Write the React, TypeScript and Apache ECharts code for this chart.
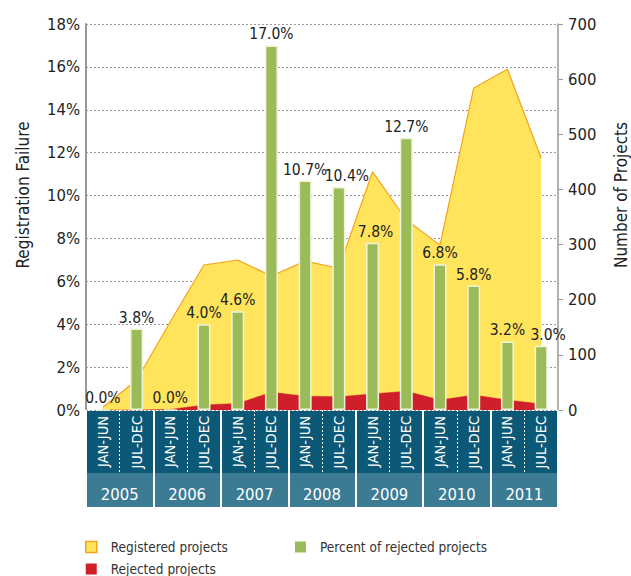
import React, { useEffect, useRef } from "react";
import * as echarts from "echarts";

const halves = [
  "JAN-JUN", "JUL-DEC", "JAN-JUN", "JUL-DEC", "JAN-JUN", "JUL-DEC", "JAN-JUN",
  "JUL-DEC", "JAN-JUN", "JUL-DEC", "JAN-JUN", "JUL-DEC", "JAN-JUN", "JUL-DEC",
];
const years = ["2005", "2006", "2007", "2008", "2009", "2010", "2011"];
const registered = [5, 54, 160, 263, 272, 243, 270, 257, 432, 345, 299, 584, 618, 457];
const rejected = [0, 0, 1, 9, 12, 32, 25, 24, 29, 34, 18, 27, 18, 11];
const percentRejected = [0.0, 3.8, 0.0, 4.0, 4.6, 17.0, 10.7, 10.4, 7.8, 12.7, 6.8, 5.8, 3.2, 3.0];
const leftTicks = { min: 0, max: 18, interval: 2 };
const rightTicks = { min: 0, max: 700, interval: 100 };

const FONT = "'Liberation Sans Narrow', 'Arial Narrow', 'DejaVu Sans Condensed', sans-serif";

// label nudges (by category index) to keep neighbouring labels apart, as in the original
const labelNudge: Record<number, number> = { 7: 8, 8: 3, 13: 7 };

export default function App() {
  const ref = useRef<HTMLDivElement>(null);
  useEffect(() => {
    if (!ref.current) return;
    const chart = echarts.init(ref.current, null, { renderer: "svg" });
    const legendText = { fontFamily: FONT, fontSize: 13.5, lineHeight: 14, color: "#333", padding: [0, 0, 0, 9] };
    const barData = percentRejected.map((v, i) =>
      labelNudge[i] ? { value: v, label: { offset: [labelNudge[i], 0] } } : v
    );
    const option: any = {
      animation: false,
      backgroundColor: "#ffffff",
      textStyle: { fontFamily: FONT },
      grid: { left: 86, right: 73, top: 24, bottom: 166, containLabel: false, outerBoundsMode: "none" },
      graphic: [
        { type: "rect", z: 1, shape: { x: 86, y: 411, width: 473, height: 62 }, style: { fill: "#0C5877" } },
        { type: "rect", z: 1, shape: { x: 86, y: 473, width: 473, height: 34 }, style: { fill: "#3C7B94" } },
      ],
      legend: [
        {
          orient: "vertical",
          left: 85,
          top: 540,
          height: 60,
          padding: 0,
          itemWidth: 11,
          itemHeight: 11,
          itemGap: 8,
          selectedMode: false,
          textStyle: legendText,
          data: [
            { name: "Registered projects", icon: "rect", itemStyle: { color: "#FFE45C", borderColor: "#F5A21E", borderWidth: 1.5 } },
            { name: "Rejected projects", icon: "rect", itemStyle: { color: "#CF1F2A", borderColor: "#CF1F2A", borderWidth: 0 } },
          ],
        },
        {
          orient: "vertical",
          left: 295,
          top: 540,
          height: 60,
          padding: 0,
          itemWidth: 11,
          itemHeight: 11,
          selectedMode: false,
          textStyle: legendText,
          data: [
            { name: "Percent of rejected projects", icon: "rect", itemStyle: { color: "#9BBB59", borderWidth: 0 } },
          ],
        },
      ],
      xAxis: [
        {
          type: "category",
          data: halves,
          position: "bottom",
          boundaryGap: true,
          z: 10,
          axisLine: { show: false },
          axisTick: { show: true, interval: 0, length: 62, lineStyle: { color: "#ffffff", width: 1, type: [2, 2] } },
          axisLabel: { interval: 0, rotate: 90, margin: 6, color: "#ffffff", fontSize: 14.5, fontFamily: FONT },
          splitLine: { show: false },
        },
        {
          type: "category",
          data: years,
          position: "bottom",
          boundaryGap: true,
          z: 11,
          axisLine: { show: false },
          axisTick: { show: true, interval: 0, length: 97, lineStyle: { color: "#ffffff", width: 2 } },
          axisLabel: { interval: 0, margin: 76, color: "#ffffff", fontSize: 16.5, fontFamily: FONT },
          splitLine: { show: false },
        },
      ],
      yAxis: [
        {
          type: "value",
          ...leftTicks,
          position: "left",
          name: "Registration Failure",
          nameLocation: "middle",
          nameRotate: 90,
          nameGap: 55,
          nameTextStyle: { fontFamily: FONT, fontSize: 17, color: "#222", padding: [0, 0, 0, 44] },
          axisLine: { show: true, lineStyle: { color: "#999", width: 2 } },
          axisTick: { show: false },
          axisLabel: { formatter: "{value}%", fontSize: 16.5, color: "#222", margin: 6, fontFamily: FONT },
          splitLine: { show: true, lineStyle: { color: "#999", width: 1, type: [2, 2] } },
        },
        {
          type: "value",
          ...rightTicks,
          position: "right",
          name: "Number of Projects",
          nameLocation: "middle",
          nameRotate: 90,
          nameGap: 54,
          nameTextStyle: { fontFamily: FONT, fontSize: 17, color: "#222", padding: [0, 0, 0, 44] },
          axisLine: { show: true, lineStyle: { color: "#999", width: 1.5 } },
          axisTick: { show: true, length: 5, lineStyle: { color: "#999" } },
          axisLabel: { fontSize: 16.5, color: "#222", margin: 10, fontFamily: FONT },
          splitLine: { show: false },
        },
      ],
      series: [
        {
          name: "Registered projects",
          type: "line",
          yAxisIndex: 1,
          z: 1,
          data: registered,
          symbol: "none",
          lineStyle: { color: "#F5A21E", width: 1.2 },
          itemStyle: { color: "#FFE45C" },
          areaStyle: { color: "#FFE45C", opacity: 1 },
        },
        {
          name: "Rejected projects",
          type: "line",
          yAxisIndex: 1,
          z: 2,
          data: rejected,
          symbol: "none",
          lineStyle: { color: "#CF1F2A", width: 0.5 },
          itemStyle: { color: "#CF1F2A" },
          areaStyle: { color: "#CF1F2A", opacity: 1 },
        },
        {
          name: "Percent of rejected projects",
          type: "bar",
          yAxisIndex: 0,
          z: 5,
          data: barData,
          barWidth: 13,
          itemStyle: { color: "#9BBB59", borderColor: "#EEF4D8", borderWidth: 1.5 },
          label: {
            show: true,
            position: "top",
            distance: 3,
            fontFamily: FONT,
            fontSize: 15.5,
            color: "#222",
            formatter: (p: any) => Number(p.value).toFixed(1) + "%",
          },
        },
      ],
    };
    chart.setOption(option);
    return () => chart.dispose();
  }, []);
  return <div ref={ref} style={{ position: "absolute", left: 0, top: 0, width: 631, height: 576 }} />;
}
